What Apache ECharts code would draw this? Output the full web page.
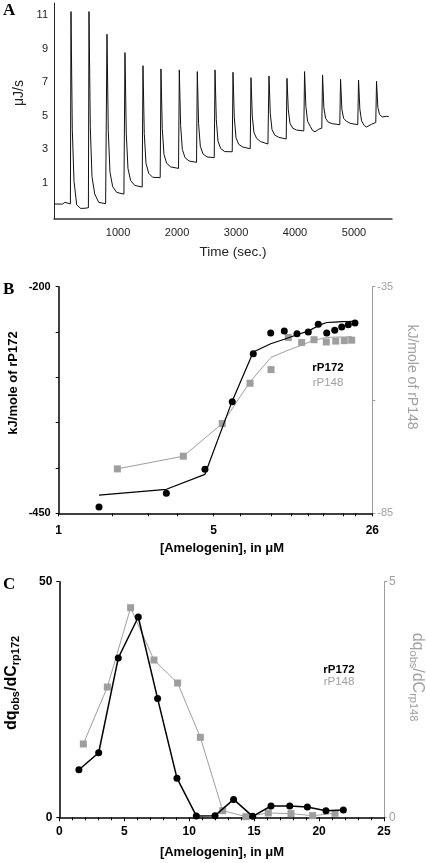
<!DOCTYPE html>
<html><head><meta charset="utf-8">
<script src="https://cdn.jsdelivr.net/npm/echarts@6/dist/echarts.min.js"></script>
<style>html,body{margin:0;padding:0;background:#fff}#c{width:426px;height:863px}</style>
</head><body><div id="c"></div>
<script>
// ---------- Panel A : raw ITC thermogram (time in s, power in µJ/s) ----------
const traceTime = [
  -85, 60, 100, 130, 193,
  198, 203, 225, 254, 300, 368, 440, 498,
  503, 508, 530, 559, 605, 673, 790,
  805, 813, 835, 864, 910, 978, 1100,
  1110, 1118, 1140, 1169, 1215, 1283, 1410,
  1415, 1423, 1445, 1474, 1520, 1588, 1715,
  1720, 1728, 1750, 1779, 1825, 1893, 2026,
  2031, 2039, 2061, 2090, 2136, 2204, 2331,
  2336, 2344, 2366, 2395, 2441, 2509, 2631,
  2636, 2644, 2666, 2695, 2741, 2809, 2936,
  2941, 2949, 2971, 3000, 3046, 3114, 3241,
  3246, 3254, 3276, 3305, 3351, 3419, 3541,
  3551, 3559, 3581, 3610, 3656, 3724, 3851,
  3856, 3864, 3886, 3915, 3961, 4029, 4149,
  4154, 4162, 4184, 4213, 4259, 4300, 4340, 4400, 4454,
  4459, 4467, 4489, 4518, 4564, 4632, 4759,
  4764, 4772, 4794, 4823, 4869, 4937, 5064,
  5069, 5077, 5099, 5128, 5174, 5210, 5300, 5369,
  5374, 5382, 5404, 5433, 5479, 5547, 5590
];
const traceValue = [
  -0.25, -0.25, -0.15, -0.25, -0.24,
  -0.25, 11.2, 4.2, 1.1, -0.3, -0.51, -0.5, -0.47,
  -0.47, 11.2, 4.35, 1.38, 0.35, -0.15, -0.23,
  -0.22, 9.85, 4.12, 1.64, 0.78, 0.44, 0.34,
  0.34, 8.76, 3.95, 1.86, 1.14, 0.86, 0.76,
  0.76, 7.98, 3.94, 2.18, 1.58, 1.34, 1.32,
  1.32, 7.79, 4.24, 2.70, 2.17, 1.96, 1.87,
  1.87, 7.73, 4.43, 3.0, 2.51, 2.31, 2.23,
  2.23, 7.63, 4.53, 3.19, 2.73, 2.55, 2.51,
  2.51, 7.73, 4.77, 3.49, 3.05, 2.87, 2.86,
  2.86, 7.59, 4.88, 3.7, 3.3, 3.14, 3.04,
  3.04, 7.27, 4.98, 3.99, 3.65, 3.46, 3.32,
  3.32, 7.37, 5.14, 4.18, 3.85, 3.72, 3.62,
  3.62, 7.23, 5.36, 4.55, 4.26, 4.15, 4.1,
  4.1, 7.63, 5.57, 4.68, 4.37, 4.12, 4.05, 4.2, 4.26,
  4.26, 7.43, 5.5, 4.85, 4.62, 4.53, 4.47,
  4.47, 7.17, 5.4, 4.85, 4.68, 4.55, 4.47,
  4.47, 7.13, 5.4, 4.7, 4.42, 4.33, 4.5, 4.6,
  4.6, 7.05, 5.5, 5.08, 4.93, 4.97, 4.95
];
const aTimeTicks = [1000, 2000, 3000, 4000, 5000];
const aPowerTicks = [1, 3, 5, 7, 9, 11];

// ---------- Panel B : integrated heats vs. concentration (log x) ----------
const b172Conc = [1.52, 3.06, 4.57, 6.07, 7.55, 9.05, 10.42, 11.89, 13.37, 14.83, 16.19, 17.59, 18.92, 20.26, 21.72];
const b172Heat = [-443, -428, -401.5, -327, -274, -251, -249, -252, -250, -241.5, -251, -248, -244.5, -242, -240];
const b172Fit  = [-430, -423.5, -407, -326, -272, -263, -258, -253, -249, -243, -239.5, -239, -238.6, -238.4, -238];
const b148Conc = [1.84, 3.65, 5.47, 7.30, 9.08, 10.86, 12.48, 14.19, 16.12, 17.78, 19.43, 20.99];
const b148Heat = [-75.2, -72.4, -65.2, -56.3, -53.3, -46.2, -47.3, -46.7, -47.2, -47.0, -46.9, -46.8];
const b148Fit  = [-75.2, -72.4, -65.2, -56, -50.6, -49, -47.9, -46.8, -46.2, -46.1, -46.1, -46];
const bConcLabels = [1, 5, 26];
const bConcTicks = [1, 1.75, 2.54, 3.41, 5, 6.58, 9.14, 11.25, 13.4, 15.6, 19.2, 21.7, 26];

// ---------- Panel C : derivative dq/dC vs. concentration ----------
const c172Conc = [1.51, 3.03, 4.54, 6.08, 7.57, 9.06, 10.55, 11.99, 13.42, 14.89, 16.3, 17.74, 19.1, 20.53, 21.87];
const c172Val  = [10.1, 13.7, 33.8, 42.5, 25.2, 8.3, 0.3, 0.35, 3.8, 0.2, 2.4, 2.4, 2.2, 1.4, 1.56];
const c148Conc = [1.85, 3.70, 5.49, 7.29, 9.11, 10.86, 12.58, 14.37, 16.09, 17.84, 19.51, 21.23];
const c148Val  = [1.556, 2.765, 4.448, 3.338, 2.85, 1.697, 0.141, 0.014, 0.092, 0.078, 0.035, 0.085];

const zip = (a, b) => a.map((v, i) => [v, b[i]]);
const SANS = 'Liberation Sans, Arial, sans-serif';
const BLACK = '#000';
const GRAY = '#9e9e9e';
const GRAYTXT = '#a0a0a0';
const plain = v => String(v);

const chart = echarts.init(document.getElementById('c'), null, {renderer: 'canvas'});

const boldLbl = (extra) => Object.assign({fontFamily: SANS, fontWeight: 'bold', fontSize: 11, color: BLACK, formatter: plain}, extra);
const grayLbl = (extra) => Object.assign({fontFamily: SANS, fontSize: 11, color: GRAYTXT, formatter: plain}, extra);

const option = {
  animation: false,
  backgroundColor: '#fff',
  grid: [
    {left: 54, top: 3, width: 338, height: 216},
    {left: 58.7, top: 286.7, width: 313.6, height: 226.6},
    {left: 59.3, top: 581.7, width: 324.7, height: 235.6}
  ],
  xAxis: [
    {gridIndex: 0, type: 'value', min: -85, max: 5644,
     axisLine: {onZero: false, lineStyle: {color: '#333', width: 1.5}},
     axisTick: {show: false}, splitLine: {show: false},
     axisLabel: {customValues: aTimeTicks, formatter: plain, fontFamily: SANS, fontSize: 11, color: '#222', margin: 8}},
    {gridIndex: 1, type: 'log', min: 1, max: 26,
     axisLine: {onZero: false, lineStyle: {color: BLACK, width: 1.5}},
     axisTick: {show: true, customValues: bConcTicks, length: 3, lineStyle: {color: BLACK, width: 1}},
     splitLine: {show: false}, minorTick: {show: false},
     axisLabel: boldLbl({customValues: bConcLabels, margin: 11, fontSize: 12})},
    {gridIndex: 2, type: 'value', min: 0, max: 25, interval: 5,
     axisLine: {onZero: false, lineStyle: {color: BLACK, width: 1.5}},
     axisTick: {show: true, length: 4, lineStyle: {color: BLACK, width: 1}},
     minorTick: {show: true, splitNumber: 5, length: 3, lineStyle: {color: BLACK, width: 1}},
     splitLine: {show: false},
     axisLabel: boldLbl({margin: 8, fontSize: 12})}
  ],
  yAxis: [
    {gridIndex: 0, type: 'value', min: -1.14, max: 11.71,
     axisLine: {show: true, onZero: false, lineStyle: {color: '#222', width: 1}},
     axisTick: {show: false}, splitLine: {show: false},
     axisLabel: {customValues: aPowerTicks, formatter: plain, fontFamily: SANS, fontSize: 11, color: '#222', margin: 6}},
    {gridIndex: 1, type: 'value', min: -450, max: -200, interval: 50,
     axisLine: {show: true, onZero: false, lineStyle: {color: BLACK, width: 1.5}},
     axisTick: {show: true, length: 3, customValues: [-450, -400, -350, -300, -250, -200], lineStyle: {color: BLACK}},
     splitLine: {show: false},
     axisLabel: boldLbl({customValues: [-450, -200], margin: 8})},
    {gridIndex: 1, type: 'value', position: 'right', min: -85, max: -35, interval: 25,
     axisLine: {show: true, onZero: false, lineStyle: {color: GRAY, width: 1}},
     axisTick: {show: true, length: 3, customValues: [-85, -60, -35], lineStyle: {color: GRAY}},
     splitLine: {show: false},
     axisLabel: grayLbl({customValues: [-85, -35], margin: 5})},
    {gridIndex: 2, type: 'value', min: 0, max: 50, interval: 50,
     axisLine: {show: true, onZero: false, lineStyle: {color: BLACK, width: 1.5}},
     axisTick: {show: true, length: 3, lineStyle: {color: BLACK}},
     splitLine: {show: false},
     axisLabel: boldLbl({margin: 7, fontSize: 12})},
    {gridIndex: 2, type: 'value', position: 'right', min: 0, max: 5, interval: 5,
     axisLine: {show: true, onZero: false, lineStyle: {color: GRAY, width: 1}},
     axisTick: {show: true, length: 3, lineStyle: {color: GRAY}},
     splitLine: {show: false},
     axisLabel: grayLbl({margin: 5, fontSize: 12})}
  ],
  series: [
    {name: 'trace', type: 'line', xAxisIndex: 0, yAxisIndex: 0, data: zip(traceTime, traceValue),
     showSymbol: false, symbol: 'none', lineStyle: {color: '#111', width: 1}},
    {name: 'rP148 fit', type: 'line', xAxisIndex: 1, yAxisIndex: 2, data: zip(b148Conc, b148Fit),
     symbol: 'none', lineStyle: {color: GRAY, width: 1}, z: 2},
    {name: 'rP148', type: 'scatter', xAxisIndex: 1, yAxisIndex: 2, data: zip(b148Conc, b148Heat),
     symbol: 'rect', symbolSize: 7, itemStyle: {color: GRAY, opacity: 1}, z: 3},
    {name: 'rP172 fit', type: 'line', xAxisIndex: 1, yAxisIndex: 1, data: zip(b172Conc, b172Fit),
     symbol: 'none', lineStyle: {color: BLACK, width: 1.2}, z: 4},
    {name: 'rP172', type: 'scatter', xAxisIndex: 1, yAxisIndex: 1, data: zip(b172Conc, b172Heat),
     symbol: 'circle', symbolSize: 7, itemStyle: {color: BLACK, opacity: 1}, z: 5},
    {name: 'rP148 dq', type: 'line', xAxisIndex: 2, yAxisIndex: 4, data: zip(c148Conc, c148Val),
     symbol: 'rect', symbolSize: 7, showSymbol: true, itemStyle: {color: GRAY, opacity: 1}, lineStyle: {color: GRAY, width: 1}, z: 2},
    {name: 'rP172 dq', type: 'line', xAxisIndex: 2, yAxisIndex: 3, data: zip(c172Conc, c172Val),
     symbol: 'circle', symbolSize: 7, showSymbol: true, itemStyle: {color: BLACK, opacity: 1}, lineStyle: {color: BLACK, width: 1.5}, z: 4}
  ],
  graphic: [
    {type: 'text', x: 3, y: 2, style: {text: 'A', font: 'bold 17px "Liberation Serif", serif', fill: BLACK}},
    {type: 'text', x: 3, y: 281, style: {text: 'B', font: 'bold 17px "Liberation Serif", serif', fill: BLACK}},
    {type: 'text', x: 3, y: 576, style: {text: 'C', font: 'bold 17px "Liberation Serif", serif', fill: BLACK}},
    {type: 'text', x: 19, y: 93, rotation: Math.PI / 2,
     style: {text: 'μJ/s', font: '14px ' + SANS, fill: '#222', align: 'center', verticalAlign: 'middle'}},
    {type: 'text', x: 233, y: 252,
     style: {text: 'Time (sec.)', font: '13.5px ' + SANS, fill: '#222', align: 'center', verticalAlign: 'middle'}},
    {type: 'text', x: 13, y: 383, rotation: Math.PI / 2,
     style: {text: 'kJ/mole of rP172', font: 'bold 13px ' + SANS, fill: BLACK, align: 'center', verticalAlign: 'middle'}},
    {type: 'text', x: 412, y: 377, rotation: -Math.PI / 2,
     style: {text: 'kJ/mole of rP148', font: '14px ' + SANS, fill: GRAYTXT, align: 'center', verticalAlign: 'middle'}},
    {type: 'text', x: 222, y: 548,
     style: {text: '[Amelogenin], in μM', font: 'bold 13px ' + SANS, fill: BLACK, align: 'center', verticalAlign: 'middle'}},
    {type: 'text', x: 328, y: 368,
     style: {text: 'rP172', font: 'bold 11.5px ' + SANS, fill: BLACK, align: 'center', verticalAlign: 'middle'}},
    {type: 'text', x: 328, y: 382.5,
     style: {text: 'rP148', font: '11.5px ' + SANS, fill: GRAYTXT, align: 'center', verticalAlign: 'middle'}},
    {type: 'text', x: 339, y: 670,
     style: {text: 'rP172', font: 'bold 11.5px ' + SANS, fill: BLACK, align: 'center', verticalAlign: 'middle'}},
    {type: 'text', x: 339, y: 681.5,
     style: {text: 'rP148', font: '11.5px ' + SANS, fill: GRAYTXT, align: 'center', verticalAlign: 'middle'}},
    {type: 'text', x: 222, y: 852.5,
     style: {text: '[Amelogenin], in μM', font: 'bold 13px ' + SANS, fill: BLACK, align: 'center', verticalAlign: 'middle'}},
    {type: 'text', x: 12, y: 683, rotation: Math.PI / 2,
     style: {text: '{a|dq}{s|obs}{a|/dC}{s|rp172}', align: 'center', verticalAlign: 'middle',
       rich: {a: {fontFamily: SANS, fontWeight: 'bold', fontSize: 16, lineHeight: 18, fill: BLACK},
              s: {fontFamily: SANS, fontWeight: 'bold', fontSize: 11, lineHeight: 10, verticalAlign: 'bottom', fill: BLACK}}}},
    {type: 'text', x: 417, y: 677, rotation: -Math.PI / 2,
     style: {text: '{a|dq}{s|obs}{a|/dC}{s|rp148}', align: 'center', verticalAlign: 'middle',
       rich: {a: {fontFamily: SANS, fontSize: 16, lineHeight: 18, fill: GRAYTXT},
              s: {fontFamily: SANS, fontSize: 11, lineHeight: 10, verticalAlign: 'bottom', fill: GRAYTXT}}}}
  ]
};
chart.setOption(option);
</script>
</body></html>
